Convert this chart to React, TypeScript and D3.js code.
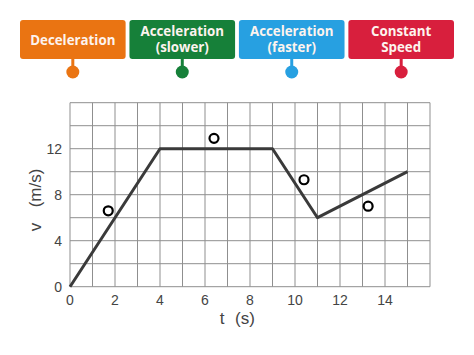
import React from "react";
import * as d3 from "d3";

const labels = [
  { lines: ["Deceleration"], color: "#ea7412" },
  { lines: ["Acceleration", "(slower)"], color: "#168039" },
  { lines: ["Acceleration", "(faster)"], color: "#27a0e1" },
  { lines: ["Constant", "Speed"], color: "#d81f3d" },
];
const lineT = [0, 4, 9, 11, 15];
const lineV = [0, 12, 12, 6, 10];
const markerT = [1.7, 6.4, 10.4, 13.25];
const markerV = [6.6, 12.9, 9.3, 7.0];
const xTicks = [0, 2, 4, 6, 8, 10, 12, 14];
const yTicks = [0, 4, 8, 12];

export default function App() {
  const W = 474, H = 355;
  const x = d3.scaleLinear().domain([0, 16]).range([70, 430]);
  const y = d3.scaleLinear().domain([0, 16]).range([286.7, 102.7]);
  const line = d3.line<number>().x((d, i) => x(lineT[i])).y((d) => y(d));
  const gridX = d3.range(0, 17, 1);
  const gridY = d3.range(0, 17, 2);
  const boxX = d3.scaleBand<number>().domain(labels.map((_, i) => i)).range([20, 454]).paddingInner(0.035);
  return (
    <svg width={W} height={H} style={{ position: "absolute", left: 0, top: 0, background: "#fff" }}>
      <rect width={W} height={H} fill="#fff" />
      {labels.map((l, i) => {
        const bx = boxX(i)!;
        const bw = boxX.bandwidth();
        const cx = bx + bw / 2;
        return (
          <g key={i}>
            <rect x={bx} y={20} width={bw} height={39} rx={3} fill={l.color} />
            <line x1={cx} x2={cx} y1={58} y2={70} stroke={l.color} strokeWidth={3} />
            <circle cx={cx} cy={72} r={6.5} fill={l.color} />
            {l.lines.map((t, j) => (
              <text
                key={j}
                x={cx}
                y={l.lines.length === 1 ? 44.5 : 35.5 + j * 16.5}
                textAnchor="middle"
                fill="#fdf3ee"
                fontFamily="'Open Sans', sans-serif"
                fontWeight={700}
                fontSize={13.3}
              >
                {t}
              </text>
            ))}
          </g>
        );
      })}
      <g stroke="#8f8f8f" strokeWidth={1}>
        {gridX.map((g) => (
          <line key={"gx" + g} x1={x(g)} x2={x(g)} y1={y(0)} y2={y(16)} />
        ))}
        {gridY.map((g) => (
          <line key={"gy" + g} x1={x(0)} x2={x(16)} y1={y(g)} y2={y(g)} />
        ))}
      </g>
      <path d={line(lineV) || ""} fill="none" stroke="#3a3a3a" strokeWidth={3} strokeLinejoin="round" />
      {markerT.map((t, i) => (
        <circle key={i} cx={x(t)} cy={y(markerV[i])} r={4.5} fill="#fff" stroke="#000" strokeWidth={2.2} />
      ))}
      <g fontFamily="'Liberation Sans', Arial, sans-serif" fontSize={14} fill="#444">
        {xTicks.map((t) => (
          <text key={"xt" + t} x={x(t)} y={305} textAnchor="middle">{t}</text>
        ))}
        {yTicks.map((t) => (
          <text key={"yt" + t} x={62} y={y(t) + 5} textAnchor="end">{t}</text>
        ))}
      </g>
      <text x={222} y={324} fontFamily="'Liberation Sans', Arial, sans-serif" fontSize={17} fill="#444" textAnchor="middle">t</text>
      <text x={245} y={324} fontFamily="'Liberation Sans', Arial, sans-serif" fontSize={17} fill="#444" textAnchor="middle">(s)</text>
      <g transform="translate(41,0) rotate(-90)" fontFamily="'Liberation Sans', Arial, sans-serif" fontSize={17} fill="#444">
        <text x={-227} y={0} textAnchor="middle">v</text>
        <text x={-188} y={0} textAnchor="middle">(m/s)</text>
      </g>
    </svg>
  );
}
